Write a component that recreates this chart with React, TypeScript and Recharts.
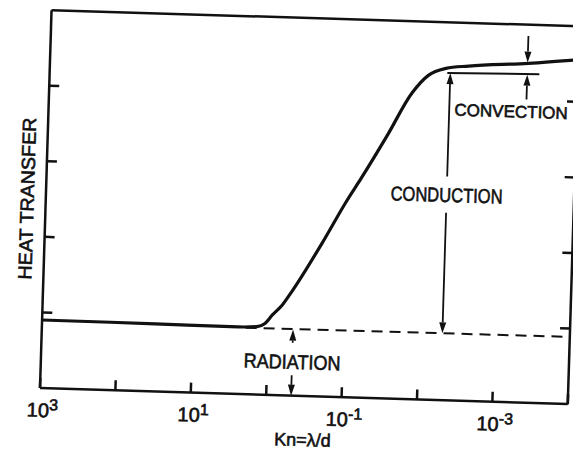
import { LineChart, Line, XAxis, YAxis, ReferenceLine, ReferenceDot } from "recharts";

// x values are log10(Kn); the axis runs from 10^3 (left) down to 10^-4 (right)
const totalLogKn = [3, 1.5, 0.4, 0.15, 0.05, -0.05, -0.18, -0.3, -0.68, -0.99, -1.17, -1.5, -1.81, -2.02, -2.25, -2.55, -3.34, -4];
const totalHeat = [0.9, 0.895, 0.888, 0.9, 0.94, 1.06, 1.2, 1.38, 2.03, 2.6, 2.9, 3.48, 4.05, 4.29, 4.39, 4.43, 4.49, 4.56];

// radiation-only level (dashed)
const radLogKn = [0.3, -4];
const radHeat = [0.88, 0.89];

const decadeTicks = [3, 2, 1, 0, -1, -2, -3, -4];
const labeledDecades = [3, 1, -1, -3];
const heatTicks = [1, 2, 3, 4];

// annotation arrows: [logKn, from, to] -> head drawn at "to"
const arrowX = [-0.33, -0.33, -2.31, -2.31, -3.33, -3.33];
const arrowFrom = [0.7, 0.27, 2.48, 2.96, 4.85, 4.01];
const arrowTo = [0.875, 0, 0.885, 4.33, 4.5, 4.34];

// convection base line (conduction + radiation level)
const baseLogKn = [-2.27, -3.49];
const baseHeat = [4.33, 4.35];

const noteText = ["RADIATION", "CONDUCTION", "CONVECTION"];
const noteLogKn = [-0.33, -2.31, -2.38];
const noteHeat = [0.45, 2.72, 3.85];
const noteAnchor = ["middle", "middle", "start"];
const noteSize = [20, 20, 17];
const noteLen = [97, 112, 0];

const W = 573;
const H = 450;
const INK = "#111";
const FONT = "'Liberation Sans', Arial, Helvetica, sans-serif";
const TICK = 10;

const total = totalLogKn.map((x, i) => ({ logKn: x, heat: totalHeat[i] }));
const radiation = radLogKn.map((x, i) => ({ logKn: x, heat: radHeat[i] }));

const axisStyle = { stroke: INK, strokeWidth: 2.5 };
const inkText = { fontFamily: FONT, fill: INK, stroke: INK, strokeWidth: 0.6 };

function DecadeTick(props: any) {
  const { x, y, payload } = props;
  const n = payload.value;
  if (!labeledDecades.includes(n)) return <g />;
  return (
    <text x={x + 3} y={y + TICK + 29} textAnchor="middle" fontSize={20} {...inkText}>
      10
      <tspan dy={-7} fontSize={16}>
        {n}
      </tspan>
    </text>
  );
}

const arrowShape = (p: any) => {
  const { x1, y1, x2, y2 } = p;
  const dx = x2 - x1;
  const dy = y2 - y1;
  const len = Math.hypot(dx, dy) || 1;
  const ux = dx / len;
  const uy = dy / len;
  const hl = 11;
  const hw = 3.5;
  const bx = x2 - ux * hl;
  const by = y2 - uy * hl;
  const pts = `${x2},${y2} ${bx - uy * hw},${by + ux * hw} ${bx + uy * hw},${by - ux * hw}`;
  return (
    <g>
      <line x1={x1} y1={y1} x2={bx} y2={by} stroke={INK} strokeWidth={1.8} />
      <polygon points={pts} fill={INK} />
    </g>
  );
};

const plainShape = (p: any) => (
  <line x1={p.x1} y1={p.y1} x2={p.x2} y2={p.y2} stroke={INK} strokeWidth={2} />
);

export default function App() {
  return (
    <div
      style={{
        position: "absolute",
        left: 0,
        top: 0,
        width: W,
        height: H,
        background: "#fff",
        transform: "rotate(1.75deg)",
        transformOrigin: "40px 388px",
      }}
    >
      <LineChart width={W} height={H} margin={{ top: 10, right: 5, bottom: 62, left: 40 }}>
        <XAxis
          xAxisId="bottom"
          type="number"
          dataKey="logKn"
          domain={[-4, 3]}
          reversed
          allowDataOverflow
          ticks={decadeTicks}
          interval={0}
          mirror
          tickSize={TICK}
          tickMargin={0}
          axisLine={axisStyle}
          tickLine={axisStyle}
          tick={<DecadeTick />}
          label={({ viewBox }: any) => (
            <text
              x={viewBox.x + viewBox.width / 2}
              y={H - 12}
              textAnchor="middle"
              fontSize={18}
              {...inkText}
            >
              Kn=λ/d
            </text>
          )}
        />
        <XAxis
          xAxisId="top"
          orientation="top"
          type="number"
          domain={[-4, 3]}
          reversed
          allowDataOverflow
          ticks={decadeTicks}
          interval={0}
          mirror
          tickSize={TICK}
          axisLine={axisStyle}
          tickLine={axisStyle}
          tick={() => <g />}
        />
        <YAxis
          yAxisId="left"
          type="number"
          domain={[0, 5]}
          allowDataOverflow
          ticks={heatTicks}
          interval={0}
          mirror
          width={1}
          tickSize={TICK}
          axisLine={axisStyle}
          tickLine={axisStyle}
          tick={() => <g />}
          label={({ viewBox }: any) => {
            const cy = viewBox.y + viewBox.height / 2;
            const cx = 28;
            return (
              <text
                x={cx}
                y={cy}
                transform={`rotate(-90, ${cx}, ${cy})`}
                textAnchor="middle"
                fontSize={19}
                textLength={162}
                lengthAdjust="spacingAndGlyphs"
                {...inkText}
              >
                HEAT TRANSFER
              </text>
            );
          }}
        />
        <YAxis
          yAxisId="right"
          orientation="right"
          type="number"
          domain={[0, 5]}
          allowDataOverflow
          ticks={heatTicks}
          interval={0}
          mirror
          width={1}
          tickSize={TICK}
          axisLine={axisStyle}
          tickLine={axisStyle}
          tick={() => <g />}
        />

        <Line
          xAxisId="bottom"
          yAxisId="left"
          data={radiation}
          dataKey="heat"
          type="linear"
          stroke={INK}
          strokeWidth={2}
          strokeDasharray="11 7"
          dot={false}
          isAnimationActive={false}
        />
        <Line
          xAxisId="bottom"
          yAxisId="left"
          data={total}
          dataKey="heat"
          type="monotone"
          stroke={INK}
          strokeWidth={3.2}
          dot={false}
          isAnimationActive={false}
        />

        <ReferenceLine
          xAxisId="bottom"
          yAxisId="left"
          segment={[
            { x: baseLogKn[0], y: baseHeat[0] },
            { x: baseLogKn[1], y: baseHeat[1] },
          ]}
          shape={plainShape}
        />
        {arrowX.map((x, i) => (
          <ReferenceLine
            key={`arrow-${i}`}
            xAxisId="bottom"
            yAxisId="left"
            segment={[
              { x, y: arrowFrom[i] },
              { x, y: arrowTo[i] },
            ]}
            shape={arrowShape}
          />
        ))}
        {noteText.map((t, i) => (
          <ReferenceDot
            key={t}
            xAxisId="bottom"
            yAxisId="left"
            x={noteLogKn[i]}
            y={noteHeat[i]}
            r={0}
            shape={(p: any) => (
              <text
                x={p.cx}
                y={p.cy + noteSize[i] * 0.36}
                textAnchor={noteAnchor[i] as any}
                fontSize={noteSize[i]}
                {...(noteLen[i] ? { textLength: noteLen[i], lengthAdjust: "spacingAndGlyphs" } : {})}
                {...inkText}
              >
                {t}
              </text>
            )}
          />
        ))}
      </LineChart>
    </div>
  );
}
